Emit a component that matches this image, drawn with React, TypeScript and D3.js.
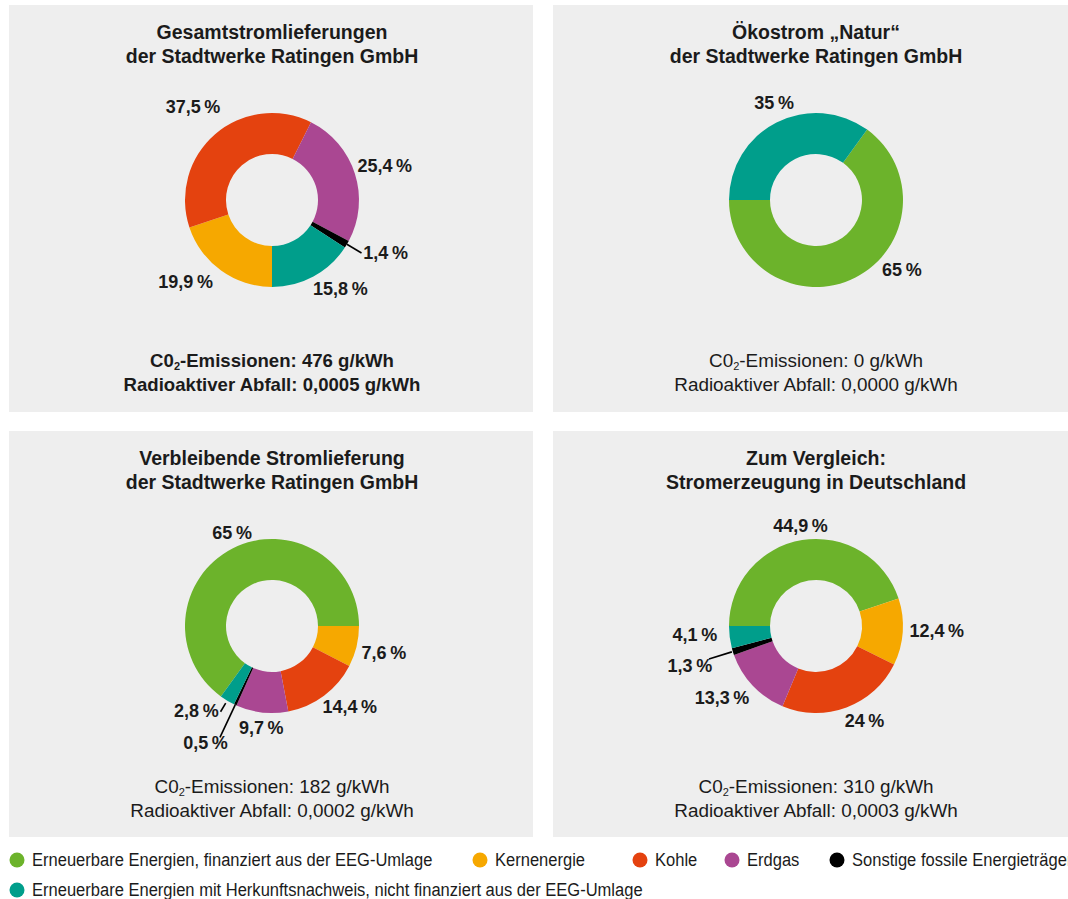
import React from "react";
import * as d3 from "d3";

// ---------- data ----------
const categories = [
  "Erneuerbare Energien, finanziert aus der EEG-Umlage",
  "Kernenergie",
  "Kohle",
  "Erdgas",
  "Sonstige fossile Energieträger",
  "Erneuerbare Energien mit Herkunftsnachweis, nicht finanziert aus der EEG-Umlage",
];
const chartTitles = [
  ["Gesamtstromlieferungen", "der Stadtwerke Ratingen GmbH"],
  ["Ökostrom „Natur“", "der Stadtwerke Ratingen GmbH"],
  ["Verbleibende Stromlieferung", "der Stadtwerke Ratingen GmbH"],
  ["Zum Vergleich:", "Stromerzeugung in Deutschland"],
];
const gesamtValues = [0, 19.9, 37.5, 25.4, 1.4, 15.8];
const oekostromValues = [65, 0, 0, 0, 0, 35];
const verbleibendValues = [65, 7.6, 14.4, 9.7, 0.5, 2.8];
const deutschlandValues = [44.9, 12.4, 24, 13.3, 1.3, 4.1];
const co2Emissions = [476, 0, 182, 310];
const radioactiveWaste = [0.0005, 0, 0.0002, 0.0003];
const boldInfo = [true, false, false, false];

// ---------- styles / layout ----------
const colors = ["#6cb32b", "#f6a800", "#e4420f", "#aa4792", "#000000", "#009e8b"];
const W = 1068;
const H = 899;
const FONT = "'Liberation Sans', Arial, Helvetica, sans-serif";
const TEXT = "#1b1b1b";
const PANEL_BG = "#eeeeee";
const panels = [
  { x: 9, y: 5, w: 524, h: 407 },
  { x: 553, y: 5, w: 524, h: 407 },
  { x: 9, y: 431, w: 524, h: 406 },
  { x: 553, y: 431, w: 524, h: 406 },
];
const startAnglesDeg = [180, 36, 216, 270];
const INNER = 46;
const OUTER = 87;
const LABEL_R = 110;
// per-chart label nudges (by category index)
const labelNudges: Array<Array<[number, number]>> = [
  [[0, 0], [-22, -7], [-7, -10], [8, -1], [19, -3], [16, -8]],
  [[36, -28], [0, 0], [0, 0], [0, 0], [0, 0], [8, 1]],
  [[10, 5], [5, 1], [12, -7], [2, -7], [-20, 17], [-19, -9]],
  [[2, 9], [11, -3], [10, -8], [-14, -4], [-21, 8], [-12, -5]],
];
// leader lines: [category index, r0, r1]
const leaders: Array<Array<[number, number, number]>> = [
  [[4, 87, 104]],
  [],
  [[4, 87, 123], [5, 90, 100]],
  [[4, 88, 112]],
];
const legendRows = [
  { y: 860, items: [0, 1, 2, 3, 4], xs: [17, 480, 640, 732, 837] },
  { y: 890, items: [5], xs: [17] },
];
const LEGEND_SCALE_X = 0.87;

const locale = d3.formatLocale({ decimal: ",", thousands: ".", grouping: [3], currency: ["", " €"] });
const fmtPct = locale.format("~g");
const fmtWaste = locale.format(".4f");

const allValues = [gesamtValues, oekostromValues, verbleibendValues, deutschlandValues];

function Donut({ idx }: { idx: number }) {
  const p = panels[idx];
  const cx = p.x + 263;
  const cy = p.y + 195;
  const s = (startAnglesDeg[idx] * Math.PI) / 180;
  const pie = d3
    .pie<number>()
    .sort(null)
    .value((d) => d)
    .startAngle(s)
    .endAngle(s + 2 * Math.PI);
  const arcs = pie(allValues[idx]);
  const arc = d3.arc<d3.PieArcDatum<number>>().innerRadius(INNER).outerRadius(OUTER);
  const labelArc = d3.arc<d3.PieArcDatum<number>>().innerRadius(LABEL_R).outerRadius(LABEL_R);
  const polar = (a: number, r: number) => [r * Math.sin(a), -r * Math.cos(a)];
  const bold = boldInfo[idx];
  return (
    <g>
      <rect x={p.x} y={p.y} width={p.w} height={p.h} fill={PANEL_BG} />
      <g fontFamily={FONT} fontWeight="bold" fontSize={19.5} fill={TEXT} textAnchor="middle">
        <text x={cx} y={p.y + 27} dominantBaseline="central">{chartTitles[idx][0]}</text>
        <text x={cx} y={p.y + 51} dominantBaseline="central">{chartTitles[idx][1]}</text>
      </g>
      <g transform={`translate(${cx},${cy})`}>
        {arcs.map((a, i) =>
          a.value > 0 ? <path key={i} d={arc(a) || ""} fill={colors[i]} /> : null
        )}
        {leaders[idx].map(([ci, r0, r1], k) => {
          const a = arcs[ci];
          const m = (a.startAngle + a.endAngle) / 2;
          const [x0, y0] = polar(m, r0);
          const [x1, y1] = polar(m, r1);
          return <line key={k} x1={x0} y1={y0} x2={x1} y2={y1} stroke="#000" strokeWidth={1.6} />;
        })}
        {arcs.map((a, i) => {
          if (a.value <= 0) return null;
          const [x, y] = labelArc.centroid(a);
          const [dx, dy] = labelNudges[idx][i];
          return (
            <text
              key={"l" + i}
              x={x + dx}
              y={y + dy}
              textAnchor="middle"
              dominantBaseline="central"
              fontFamily={FONT}
              fontWeight="bold"
              fontSize={18}
              fill={TEXT}
            >
              {fmtPct(a.value) + "\u2009%"}
            </text>
          );
        })}
      </g>
      <g fontFamily={FONT} fontWeight={bold ? "bold" : "normal"} fontSize={bold ? 18.6 : 18.9} fill={TEXT} textAnchor="middle">
        <text x={cx} y={p.y + 355} dominantBaseline="central">
          C0<tspan fontSize={11} dy={6}>2</tspan>
          <tspan dy={-6}>{`-Emissionen: ${co2Emissions[idx]} g/kWh`}</tspan>
        </text>
        <text x={cx} y={p.y + 379} dominantBaseline="central">
          {`Radioaktiver Abfall: ${fmtWaste(radioactiveWaste[idx])} g/kWh`}
        </text>
      </g>
    </g>
  );
}

export default function App() {
  return (
    <div style={{ position: "absolute", left: 0, top: 0, width: W, height: H, overflow: "hidden" }}>
      <svg width={W} height={H} style={{ display: "block", background: "#ffffff" }}>
        {[0, 1, 2, 3].map((i) => (
          <Donut key={i} idx={i} />
        ))}
        {legendRows.map((row, ri) => (
          <g key={ri}>
            {row.items.map((ci, k) => (
              <g key={ci}>
                <circle cx={row.xs[k]} cy={row.y} r={7.5} fill={colors[ci]} />
                <text
                  transform={`translate(${row.xs[k] + 15},${row.y}) scale(${LEGEND_SCALE_X},1)`}
                  dominantBaseline="central"
                  fontFamily={FONT}
                  fontSize={19}
                  fill={TEXT}
                >
                  {categories[ci]}
                </text>
              </g>
            ))}
          </g>
        ))}
      </svg>
    </div>
  );
}
